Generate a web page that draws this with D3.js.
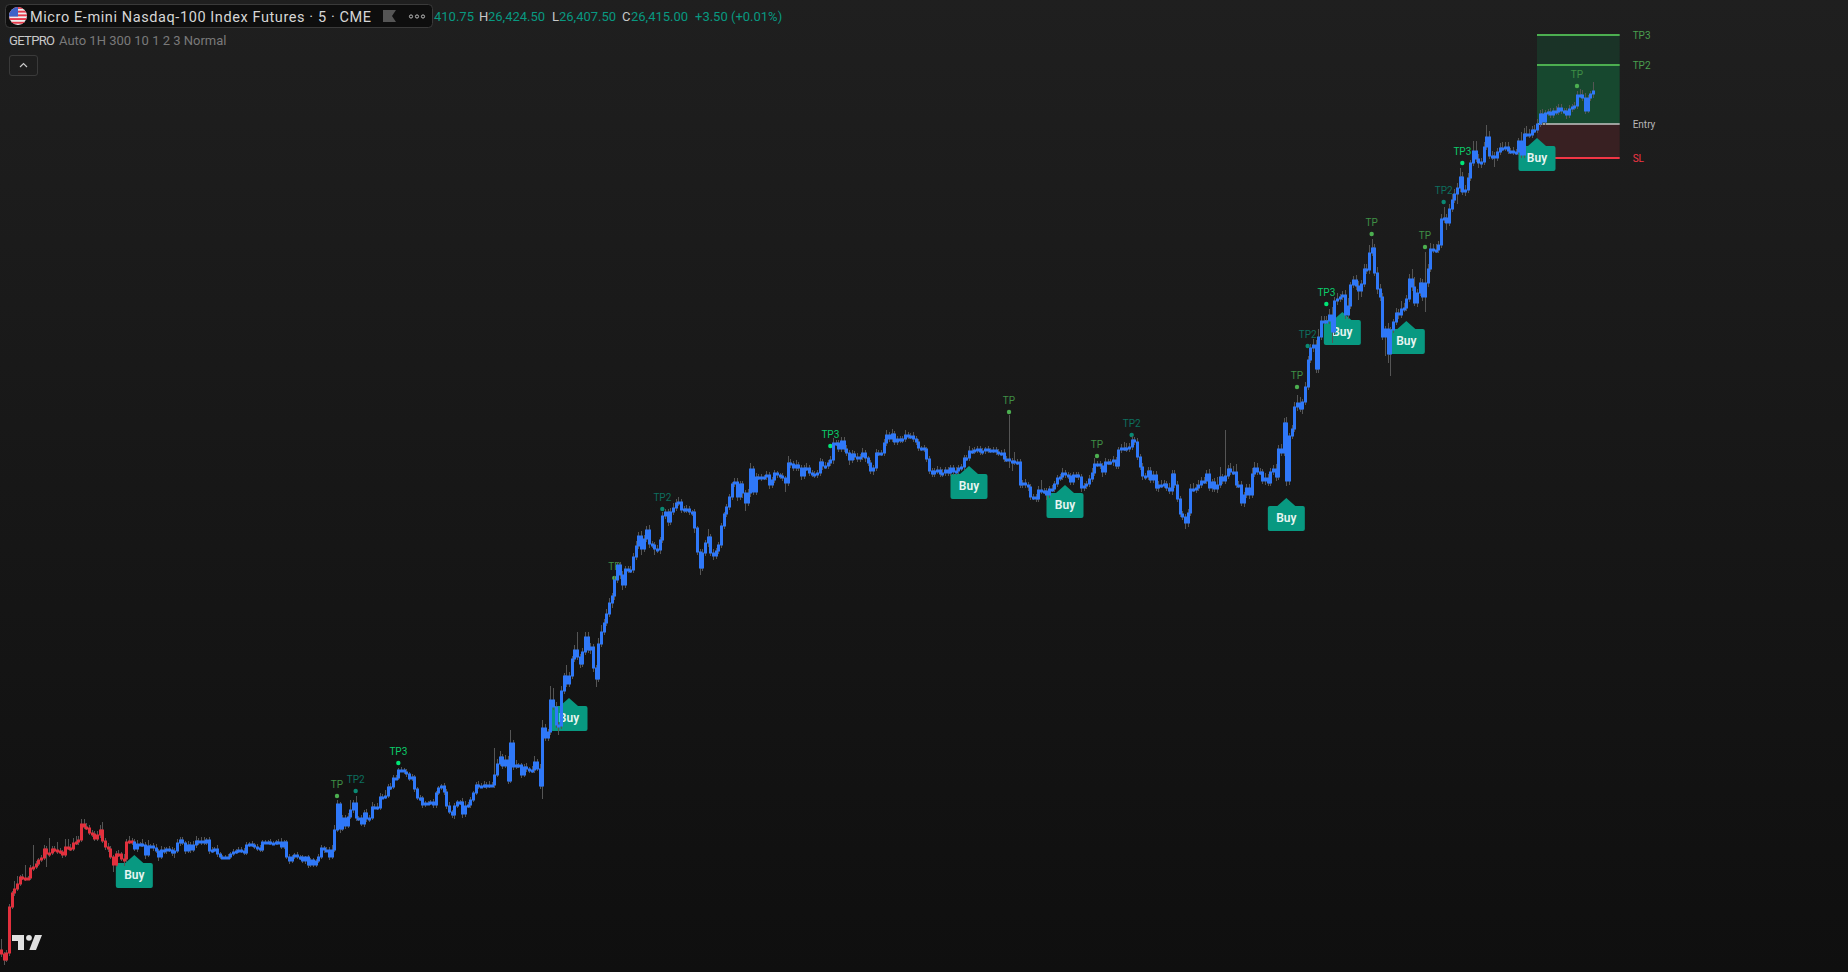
<!DOCTYPE html>
<html>
<head>
<meta charset="utf-8">
<title>Micro E-mini Nasdaq-100 Index Futures</title>
<script src="https://cdnjs.cloudflare.com/ajax/libs/d3/7.8.5/d3.min.js"></script>
<style>
  html, body { margin: 0; padding: 0; background: #0f0f0f; overflow: hidden; }
  svg { display: block; }
</style>
</head>
<body>
<div id="chart"></div>
<script>
// prices are stored as points above priceBase, one row = 10 candles
const priceBase = 25534;
const firstOpen = 22;
const redBars = 50; // candles before this index are the bearish regime colour

const closes = [
  18,12,19,65,79,83,88,95,94,94,
  94,104,105,108,112,114,123,118,119,123,
  122,121,120,117,125,124,123,129,130,132,
  148,145,144,139,138,133,137,142,131,125,
  123,115,107,118,118,113,113,130,131,130,
  123,128,128,127,117,126,126,124,121,115,
  122,121,123,122,119,121,129,132,129,121,
  127,122,127,131,129,131,129,132,121,122,
  123,118,115,115,115,115,118,120,121,122,
  121,119,127,128,127,125,124,122,130,130,
  130,129,129,130,130,125,130,115,111,115,
  117,115,115,111,115,107,112,107,111,115,
  124,122,122,115,122,142,168,143,154,146,
  155,162,169,154,154,148,159,153,154,165,
  165,164,175,175,176,185,185,194,194,202,
  202,200,198,193,195,183,174,174,167,169,
  169,170,167,179,184,186,180,166,160,157,
  166,170,170,158,166,167,172,179,187,186,
  186,187,186,187,187,197,208,215,206,212,
  191,229,205,207,207,197,205,203,201,202,
  210,203,186,244,234,240,272,265,247,246,
  281,296,288,296,313,322,315,308,320,335,
  322,325,304,293,328,340,349,358,369,376,
  392,407,397,387,403,402,402,415,426,436,
  423,433,442,428,427,423,422,432,456,460,
  450,460,464,469,470,462,463,463,460,460,
  444,420,404,419,429,435,419,416,421,427,
  446,458,465,475,488,490,475,488,479,469,
  479,503,480,495,495,495,495,497,487,492,
  499,497,496,494,489,509,508,504,507,504,
  496,504,504,499,498,497,499,510,506,506,
  509,512,529,529,523,531,523,519,512,518,
  515,513,515,519,514,509,501,504,519,519,
  519,529,537,533,538,530,533,532,533,537,
  536,536,533,530,524,524,523,513,501,498,
  501,502,498,499,502,499,504,500,501,504,
  505,514,514,521,521,522,523,520,521,523,
  522,522,522,520,519,519,513,513,511,511,
  510,510,487,489,487,485,475,475,473,482,
  481,481,477,483,483,488,494,495,499,497,
  496,490,497,497,495,484,486,488,493,499,
  508,508,506,500,510,510,510,512,506,522,
  524,524,523,525,532,530,515,505,496,495,
  501,492,497,484,487,487,488,484,481,498,
  487,473,458,455,449,459,483,483,484,487,
  491,491,498,484,490,483,487,495,491,496,
  503,500,500,487,487,469,477,484,477,498,
  504,500,500,491,494,489,500,503,495,523,
  519,549,491,536,543,565,569,563,570,585,
  612,624,627,603,635,651,651,651,657,640,
  671,673,675,677,657,666,687,692,686,681,
  688,703,702,719,724,699,683,675,635,643,
  618,642,650,659,657,663,664,673,693,685,
  669,679,689,675,689,703,723,722,722,727,
  753,754,749,763,772,778,784,795,780,782,
  794,809,821,813,809,810,825,835,816,816,
  814,820,824,824,825,821,821,820,820,831,
  817,838,838,837,842,842,848,858,850,859,
  860,857,861,860,864,861,861,857,863,865,
  866,877,877,874,861,874,878,881
];

// wick length above the body of each candle
const wickUp = [
  11,2,3,3,2,8,8,2,3,13,
  2,3,22,3,2,3,4,3,15,3,
  3,8,3,2,8,8,4,5,6,4,
  5,5,4,3,3,3,4,5,8,3,
  4,3,2,3,4,2,5,3,5,3,
  3,4,2,5,3,6,2,3,4,2,
  4,3,2,3,3,3,4,3,3,2,
  4,3,4,5,3,4,4,2,3,3,
  2,4,2,2,2,3,2,3,2,3,
  3,3,3,2,3,2,3,3,2,2,
  2,3,2,2,3,4,2,2,3,2,
  2,3,2,2,1,2,2,2,2,3,
  3,2,3,3,5,5,4,2,3,3,
  4,10,3,7,2,3,3,4,3,5,
  3,4,4,3,6,3,4,3,3,2,
  3,2,3,2,3,2,2,3,2,2,
  2,2,3,2,2,2,3,3,4,2,
  3,2,2,4,5,3,3,2,3,4,
  3,4,3,4,3,27,5,6,3,5,
  4,13,3,5,2,2,3,4,2,4,
  6,3,5,8,4,3,14,12,5,3,
  5,3,11,4,3,5,18,3,4,5,
  5,4,3,3,6,7,4,5,5,3,
  4,3,3,4,3,3,4,4,5,4,
  5,4,4,5,3,3,4,3,4,3,
  3,4,5,4,5,3,3,4,3,2,
  3,2,3,4,3,8,3,4,3,3,
  3,2,3,3,2,4,4,3,3,3,
  4,6,3,4,3,3,2,4,3,3,
  3,2,2,3,2,7,4,3,5,3,
  3,3,5,3,3,3,3,4,3,4,
  3,4,5,3,3,4,4,4,3,4,
  3,4,3,5,3,2,3,3,4,3,
  3,4,5,3,5,3,3,3,3,5,
  3,3,4,3,3,2,3,2,3,3,
  3,4,3,4,3,3,3,3,4,3,
  3,3,3,5,3,3,3,3,3,2,
  3,2,3,3,3,3,4,3,44,3,
  9,3,3,3,4,3,3,3,3,4,
  10,3,3,3,4,3,3,3,5,3,
  3,3,3,3,3,3,3,3,4,5,
  6,3,3,3,4,3,3,4,3,3,
  4,6,5,4,4,3,4,3,4,3,
  4,4,4,4,4,5,4,3,5,4,
  4,4,3,3,3,4,5,6,4,5,
  4,4,4,5,3,4,8,10,3,46,
  4,6,6,8,4,4,3,4,4,6,
  6,5,4,3,5,4,4,4,5,4,
  5,5,6,3,4,5,8,6,3,5,
  4,4,6,5,8,5,5,5,6,8,
  4,6,3,4,5,8,3,4,5,5,
  4,5,5,8,9,4,6,5,4,3,
  6,3,3,5,4,8,5,4,5,10,
  10,4,5,4,31,5,6,5,6,4,
  5,11,4,5,6,5,5,9,5,5,
  5,3,10,10,5,4,5,12,6,5,
  4,4,5,6,5,5,3,4,3,3,
  9,6,8,5,4,5,5,4,5,3,
  3,4,3,5,4,4,3,3,4,3,
  4,4,6,5,5,3,3,9
];

// wick length below the body of each candle
const wickDown = [
  3,5,2,3,2,3,2,2,2,3,
  2,2,3,2,2,2,2,13,3,2,
  2,3,2,3,2,2,2,2,2,3,
  2,2,2,2,3,2,2,3,2,3,
  3,2,7,2,3,2,7,3,2,3,
  2,3,2,2,4,2,2,3,2,4,
  2,3,3,2,3,5,2,3,2,3,
  2,3,2,3,2,2,2,2,3,2,
  2,3,2,2,2,2,2,2,2,2,
  2,2,2,2,2,2,3,2,2,2,
  2,2,2,2,2,2,2,2,3,2,
  2,2,3,2,3,3,2,2,2,2,
  2,3,2,3,2,2,2,4,2,3,
  2,2,3,3,3,2,3,3,3,2,
  2,2,2,2,2,2,3,2,2,2,
  2,2,3,2,2,3,2,3,3,2,
  2,2,3,3,2,2,3,3,2,3,
  4,2,3,4,3,2,3,2,2,3,
  2,2,3,2,2,3,2,2,3,2,
  3,2,3,2,3,3,2,3,2,2,
  3,2,3,13,3,3,3,3,3,9,
  3,3,3,3,3,3,3,4,3,3,
  3,4,4,8,3,3,3,3,3,5,
  4,3,4,5,3,3,3,3,3,3,
  6,3,3,4,3,6,3,4,3,3,
  4,3,3,3,3,3,3,4,3,4,
  5,3,7,3,3,4,3,4,3,3,
  3,3,3,3,3,3,4,3,5,8,
  3,4,3,3,3,4,3,3,4,3,
  3,3,3,3,9,3,4,3,3,3,
  4,3,3,3,3,3,3,3,4,3,
  3,3,4,3,3,3,3,3,5,3,
  3,3,3,3,4,3,3,4,3,3,
  3,3,3,3,3,3,3,3,3,3,
  3,3,3,3,3,3,3,3,3,3,
  3,3,3,3,3,3,3,3,3,3,
  3,3,3,3,3,3,3,3,3,3,
  3,3,3,3,3,3,3,3,7,10,
  3,3,3,3,3,4,3,3,3,3,
  3,3,5,3,3,3,3,3,3,3,
  3,3,3,3,3,4,3,3,3,3,
  3,3,3,5,3,3,3,4,3,3,
  3,3,3,3,3,3,3,3,4,3,
  3,3,3,3,4,3,3,3,3,4,
  3,3,3,3,6,4,3,3,4,3,
  3,3,3,3,4,3,4,3,3,3,
  3,3,3,3,3,3,4,3,4,3,
  3,3,3,3,4,3,3,3,4,3,
  3,3,5,4,3,3,4,3,5,3,
  3,3,4,4,4,3,3,3,3,11,
  3,4,3,3,4,4,3,3,4,9,
  6,3,4,4,3,3,5,4,3,19,
  9,22,3,3,4,3,3,3,3,4,
  3,4,3,4,15,4,3,3,3,3,
  3,4,7,3,3,3,10,4,3,4,
  3,3,3,3,5,5,3,3,3,4,
  9,3,3,3,3,3,3,3,3,3,
  3,3,3,3,3,3,3,3,3,3,
  3,3,3,3,3,3,3,4,3,3,
  3,3,3,3,3,2,3,4
];

// labels are [candle index, price above base]
const buyMarks = [[50,117],[213,274],[363,506],[399,487],[482,474],[503,660],[527,651],[576,834]];
const tp1Marks = [[126,176],[230,394],[378,560],[411,516],[486,585],[514,738],[534,725],[591,886]];
const tp2Marks = [[133,181],[248,463],[424,537],[490,626],[541,770]];
const tp3Marks = [[149,209],[311,526],[497,668],[548,809]];

// open trade box
const boxStart = 576, boxEnd = 607;
const tp3Level = 937, tp2Level = 907, entryLevel = 848, slLevel = 814;

const titleText = "Micro E-mini Nasdaq-100 Index Futures · 5 · CME";
const indicatorName = "GETPRO";
const indicatorArgs = "Auto 1H 300 10 1 2 3 Normal";
const ohlcLabels = ["H", "L", "C"];
const ohlcValues = ["26,424.50", "26,407.50", "26,415.00"];
const openTail = "410.75";
const changeText = "+3.50 (+0.01%)";

const w = 1848, h = 972;
const uiFont = "Roboto, 'Noto Sans', sans-serif";

const svg = d3.select("#chart").append("svg").attr("width", w).attr("height", h)
    .style("font-family", uiFont);

const grad = svg.append("defs").append("linearGradient").attr("id", "bg")
    .attr("x1", 0).attr("y1", 0).attr("x2", 0).attr("y2", 1);
grad.append("stop").attr("offset", "0%").attr("stop-color", "#1f1f1f");
grad.append("stop").attr("offset", "100%").attr("stop-color", "#0f0f0f");
svg.append("rect").attr("width", w).attr("height", h).attr("fill", "url(#bg)");

// one candle spacing is 2.667px, scale runs past the last bar for the trade box
const x = d3.scaleLinear().domain([0, closes.length - 1]).range([1, 1593]);
const y = d3.scaleLinear().domain([priceBase, priceBase + h]).range([h, 0]);
const py = v => y(priceBase + v);

const candles = closes.map((c, i) => {
    const o = i === 0 ? firstOpen : closes[i - 1];
    return {
        i, o, c,
        h: Math.max(o, c) + wickUp[i],
        l: Math.min(o, c) - wickDown[i]
    };
});

// trade box
const box = svg.append("g");
const boxX = x(boxStart), boxW = x(boxEnd) - x(boxStart);
const zones = [
    { a: tp3Level, b: tp2Level, fill: "#1a3327" },
    { a: tp2Level, b: entryLevel, fill: "#17482f" },
    { a: entryLevel, b: slLevel, fill: "#382022" }
];
box.selectAll("rect").data(zones).join("rect")
    .attr("x", boxX).attr("width", boxW)
    .attr("y", d => py(d.a)).attr("height", d => py(d.b) - py(d.a))
    .attr("fill", d => d.fill);
const levels = [
    { v: tp3Level, name: "TP3", line: "#4caf50", text: "#4a9e4e", sw: 2 },
    { v: tp2Level, name: "TP2", line: "#4caf50", text: "#4a9e4e", sw: 2 },
    { v: entryLevel, name: "Entry", line: "#c4c4c4", text: "#b8b8b8", sw: 1.5 },
    { v: slLevel, name: "SL", line: "#f23645", text: "#f23645", sw: 2 }
];
box.selectAll("line").data(levels).join("line")
    .attr("x1", boxX).attr("x2", boxX + boxW)
    .attr("y1", d => py(d.v)).attr("y2", d => py(d.v))
    .attr("stroke", d => d.line).attr("stroke-width", d => d.sw);
box.selectAll("text").data(levels).join("text")
    .attr("x", x(boxEnd) + 13).attr("y", d => py(d.v)).attr("dy", "0.35em")
    .attr("fill", d => d.text).style("font-size", "10px").text(d => d.name);

// Buy labels, under the candles
const buy = svg.append("g").selectAll("g").data(buyMarks).join("g")
    .attr("transform", d => `translate(${x(d[0])},${py(d[1])})`);
buy.append("path")
    .attr("d", "M0,0 L-9,8 L-16.5,8 Q-18.5,8 -18.5,10 L-18.5,31 Q-18.5,33 -16.5,33 L16.5,33 Q18.5,33 18.5,31 L18.5,10 Q18.5,8 16.5,8 L9,8 Z")
    .attr("fill", "#089981");
buy.append("text").attr("y", 19.5).attr("dy", "0.35em").attr("text-anchor", "middle")
    .attr("fill", "#e8f5f2").style("font-size", "12px").style("font-weight", 600).text("Buy");

// TP markers
const tpTiers = [
    { marks: tp1Marks, name: "TP", dot: "#4caf50", text: "#3f8f45" },
    { marks: tp2Marks, name: "TP2", dot: "#0a8a74", text: "#0d6f5f" },
    { marks: tp3Marks, name: "TP3", dot: "#00e676", text: "#0ccb6a" }
];
tpTiers.forEach(t => {
    const g = svg.append("g").selectAll("g").data(t.marks).join("g")
        .attr("transform", d => `translate(${x(d[0])},${py(d[1])})`);
    g.append("circle").attr("r", 2.2).attr("fill", t.dot);
    g.append("text").attr("y", -11.3).attr("dy", "0.35em").attr("text-anchor", "middle")
        .attr("fill", t.text).style("font-size", "10px").text(t.name);
});

// candles: wicks first then bodies, bodies carry a 1px border like the source
const plot = svg.append("g");
plot.append("g").selectAll("line").data(candles).join("line")
    .attr("x1", d => Math.round(x(d.i)) + 0.5).attr("x2", d => Math.round(x(d.i)) + 0.5)
    .attr("y1", d => py(d.h)).attr("y2", d => py(d.l))
    .attr("stroke", "#555").attr("stroke-width", 1);
plot.append("g").selectAll("rect").data(candles).join("rect")
    .attr("x", d => Math.round(x(d.i)) - 1).attr("width", 3)
    .attr("y", d => py(Math.max(d.o, d.c)) - 0.5)
    .attr("height", d => Math.max(3, Math.abs(py(d.o) - py(d.c)) + 1))
    .attr("fill", d => d.i < redBars ? "#e2303d" : "#2f78f8");

// legend header
const head = svg.append("g");
head.append("rect").attr("x", 5.5).attr("y", 4.5).attr("width", 427).attr("height", 23).attr("rx", 4)
    .attr("fill", "#0e0e0e").attr("stroke", "#3a3a3a");

const flag = head.append("g");
flag.append("clipPath").attr("id", "flagClip").append("circle").attr("cx", 18).attr("cy", 16).attr("r", 9);
const flagBody = flag.append("g").attr("clip-path", "url(#flagClip)");
flagBody.append("rect").attr("x", 9).attr("y", 7).attr("width", 18).attr("height", 18).attr("fill", "#eeeeee");
flagBody.selectAll(".stripe").data(d3.range(0, 5)).join("rect").attr("class", "stripe")
    .attr("x", 9).attr("width", 18).attr("y", d => 7 + d * 3.7).attr("height", 1.9).attr("fill", "#e5394a");
flagBody.append("rect").attr("x", 9).attr("y", 7).attr("width", 9).attr("height", 9.5).attr("fill", "#3f62c8");

head.append("text").attr("x", 30).attr("y", 16.5).attr("dy", "0.35em")
    .attr("fill", "#d6d6d6").style("font-size", "14.5px").attr("textLength", 341).text(titleText);
head.append("path").attr("d", "M383,10 L396,10 L392,16 L396,22 L383,22 Z").attr("fill", "#555");
head.selectAll(".more").data([411, 417, 423]).join("circle").attr("class", "more")
    .attr("cx", d => d).attr("cy", 16.5).attr("r", 1.6)
    .attr("fill", "none").attr("stroke", "#bdbdbd").attr("stroke-width", 1);

const teal = "#089981", labelGrey = "#c9c9c9";
const valueX = [488, 559, 631], letterX = [479, 552, 622];
head.append("text").attr("x", 434).attr("y", 16.5).attr("dy", "0.35em").attr("fill", teal)
    .style("font-size", "13px").text(openTail);
ohlcLabels.forEach((l, i) => {
    head.append("text").attr("x", letterX[i]).attr("y", 16.5).attr("dy", "0.35em").attr("fill", labelGrey)
        .style("font-size", "13px").text(l);
    head.append("text").attr("x", valueX[i]).attr("y", 16.5).attr("dy", "0.35em").attr("fill", teal)
        .style("font-size", "13px").text(ohlcValues[i]);
});
head.append("text").attr("x", 695).attr("y", 16.5).attr("dy", "0.35em").attr("fill", teal)
    .style("font-size", "13px").text(changeText);

head.append("text").attr("x", 9).attr("y", 40.5).attr("dy", "0.35em").attr("fill", "#c9c9c9")
    .style("font-size", "13px").attr("textLength", 46).text(indicatorName);
head.append("text").attr("x", 59).attr("y", 40.5).attr("dy", "0.35em").attr("fill", "#7a7a7a")
    .style("font-size", "13px").text(indicatorArgs);

head.append("rect").attr("x", 9.5).attr("y", 55.5).attr("width", 28).attr("height", 20).attr("rx", 2.5)
    .attr("fill", "none").attr("stroke", "#3a3a3a");
head.append("path").attr("d", "M20,67 L23.5,63.5 L27,67").attr("fill", "none").attr("stroke", "#c9c9c9").attr("stroke-width", 1.2);

// TV logo
const logo = svg.append("g").attr("fill", "#e0e0e0");
logo.append("path").attr("d", "M12,935 H24 V950 H18 V941 H12 Z");
logo.append("circle").attr("cx", 29).attr("cy", 937.8).attr("r", 2.9);
logo.append("path").attr("d", "M35,935 H42 L36,950 H29.3 Z");
</script>
</body>
</html>
